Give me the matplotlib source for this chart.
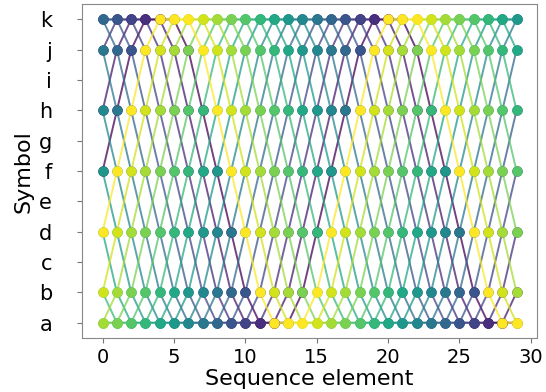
import matplotlib
matplotlib.use("Agg")
import matplotlib.pyplot as plt
import numpy as np

# y-axis symbols (tick labels)
symbols = ["a", "b", "c", "d", "e", "f", "g", "h", "i", "j", "k"]
# sequence element positions
elements = list(range(30))
# 16 sequences, colored by their index
sequences = [
    "fhjkkkjhfdbaaabdfhjkkkjhfdbaaa",
    "hjkkkjhfdbaaabdfhjkkkjhfdbaaab",
    "jkkkjhfdbaaabdfhjkkkjhfdbaaabd",
    "kkkjhfdbaaabdfhjkkkjhfdbaaabdf",
    "kkjhfdbaaabdfhjkkkjhfdbaaabdfh",
    "kjhfdbaaabdfhjkkkjhfdbaaabdfhj",
    "jhfdbaaabdfhjkkkjhfdbaaabdfhjk",
    "hfdbaaabdfhjkkkjhfdbaaabdfhjkk",
    "fdbaaabdfhjkkkjhfdbaaabdfhjkkk",
    "dbaaabdfhjkkkjhfdbaaabdfhjkkkj",
    "baaabdfhjkkkjhfdbaaabdfhjkkkjh",
    "aaabdfhjkkkjhfdbaaabdfhjkkkjhf",
    "aabdfhjkkkjhfdbaaabdfhjkkkjhfd",
    "abdfhjkkkjhfdbaaabdfhjkkkjhfdb",
    "bdfhjkkkjhfdbaaabdfhjkkkjhfdba",
    "dfhjkkkjhfdbaaabdfhjkkkjhfdbaa",
]

fig, ax = plt.subplots(figsize=(5.46, 3.92), dpi=100)
fig.subplots_adjust(left=0.15, right=0.984, top=0.989, bottom=0.138)

cmap = plt.get_cmap("viridis")
n = len(sequences)
sym_index = {s: k for k, s in enumerate(symbols)}
for i, seq in enumerate(sequences):
    ys = [sym_index[ch] for ch in seq]
    ax.plot(elements, ys, color=cmap(i / (n - 1)), lw=1.4, alpha=0.75, zorder=1)
for i, seq in enumerate(sequences):
    ys = [sym_index[ch] for ch in seq]
    ax.plot(elements, ys, "o", color=cmap(i / (n - 1)), ms=6.5, zorder=2)

ax.set_yticks(range(len(symbols)))
ax.set_yticklabels(symbols)
ax.set_xticks([0, 5, 10, 15, 20, 25, 30])
ax.tick_params(labelsize=14, color="#777777", length=3.5)
ax.tick_params(axis="y", labelsize=15, pad=18)
for sp in ax.spines.values():
    sp.set_color("#888888")
ax.set_xlabel("Sequence element", fontsize=16, labelpad=2)
ax.set_ylabel("Symbol", fontsize=16, labelpad=4)

fig.savefig("out.png", dpi=100)
